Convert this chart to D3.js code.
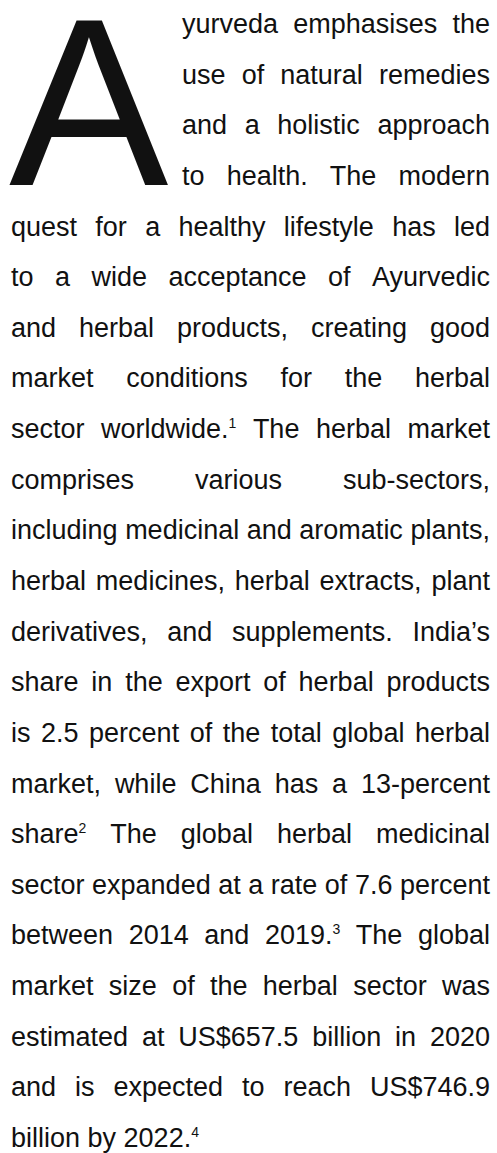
<!DOCTYPE html>
<html>
<head>
<meta charset="utf-8">
<script src="https://cdn.jsdelivr.net/npm/d3@7"></script>
<style>
  html, body { margin: 0; padding: 0; background: #fff; }
  svg text { font-family: "Liberation Sans", Helvetica, Arial, sans-serif; fill: #111; }
</style>
</head>
<body>
<div class="text-container"></div>
<script>
// the drop cap letter
const DROP_CAP = "A";

// the lines of the paragraph, as they break in the picture
// ^n marks a footnote number after a word
const LINES = [
  "yurveda emphasises the",
  "use of natural remedies",
  "and a holistic approach",
  "to health. The modern",
  "quest for a healthy lifestyle has led",
  "to a wide acceptance of Ayurvedic",
  "and herbal products, creating good",
  "market conditions for the herbal",
  "sector worldwide.^1 The herbal market",
  "comprises various sub-sectors,",
  "including medicinal and aromatic plants,",
  "herbal medicines, herbal extracts, plant",
  "derivatives, and supplements. India’s",
  "share in the export of herbal products",
  "is 2.5 percent of the total global herbal",
  "market, while China has a 13-percent",
  "share^2 The global herbal medicinal",
  "sector expanded at a rate of 7.6 percent",
  "between 2014 and 2019.^3 The global",
  "market size of the herbal sector was",
  "estimated at US$657.5 billion in 2020",
  "and is expected to reach US$746.9",
  "billion by 2022.^4",
];

// how many lines sit beside the drop cap
const CAP_LINES = 4;

document.addEventListener("DOMContentLoaded", () => {
  drawParagraph(LINES);
});

function drawParagraph(lines) {
  const width = 497, height = 1153;
  const left = 11, right = 490, capIndent = 182;
  const fontSize = 27;

  const svg = d3.select(".text-container")
    .append("svg")
    .attr("width", width)
    .attr("height", height);

  // line number -> baseline
  const y = d3.scaleLinear()
    .domain([0, lines.length - 1])
    .range([33, 1147]);

  // big first letter, baseline on the 4th line
  svg.append("text")
    .attr("x", 9)
    .attr("y", y(CAP_LINES - 1))
    .style("font-size", "239px")
    .text(DROP_CAP);

  lines.forEach((line, i) => {
    const x0 = i < CAP_LINES ? capIndent : left;
    const last = i === lines.length - 1;
    const g = svg.append("g").attr("class", "line");

    const words = line.split(" ").map(w => {
      const parts = w.split("^");
      const t = g.append("text")
        .attr("y", y(i))
        .style("font-size", fontSize + "px");
      t.append("tspan").text(parts[0]);
      if (parts[1]) {
        t.append("tspan")
          .attr("dy", -10)
          .style("font-size", "14px")
          .text(parts[1]);
      }
      return {el: t, w: t.node().getComputedTextLength()};
    });

    const total = d3.sum(words, d => d.w);
    let gap = last ? fontSize * 0.278 : (right - x0 - total) / (words.length - 1);

    // squeeze the letters a bit if a line is too long for the column
    const minGap = 6;
    if (!last && gap < minGap) {
      const k = (right - x0 - minGap * (words.length - 1)) / total;
      words.forEach(d => {
        d.el.attr("textLength", d.w * k).attr("lengthAdjust", "spacingAndGlyphs");
        d.w = d.w * k;
      });
      gap = minGap;
    }

    let x = x0;
    words.forEach(d => {
      d.el.attr("x", x);
      x += d.w + gap;
    });
  });
}
</script>
</body>
</html>
